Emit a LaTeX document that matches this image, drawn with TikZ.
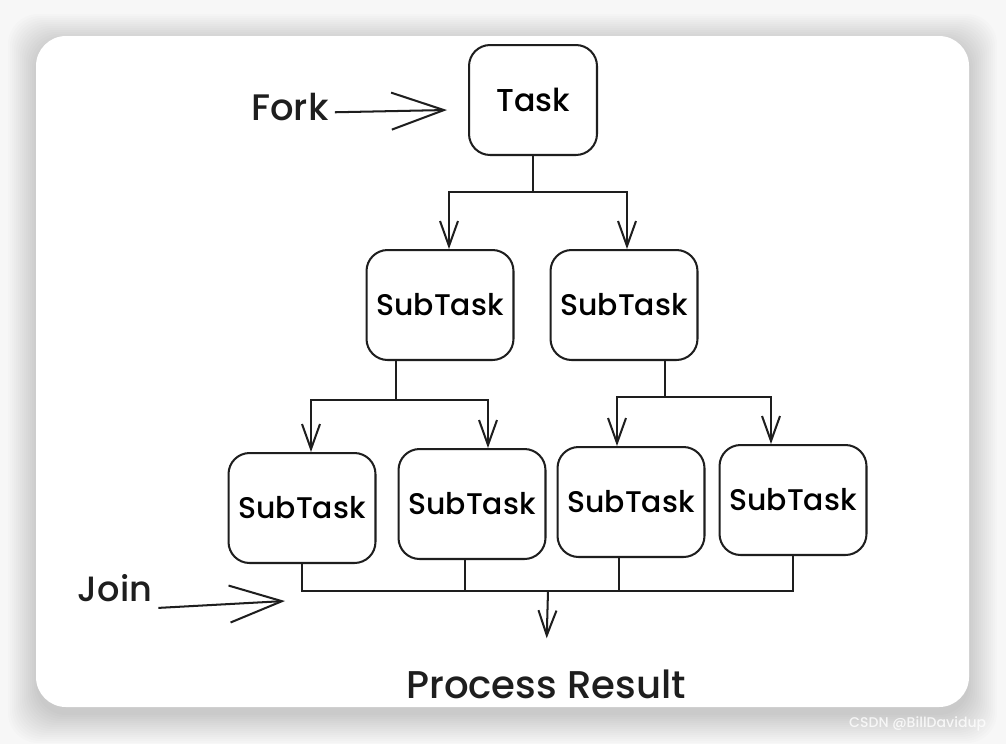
\documentclass[tikz,border=0pt]{standalone}
\usepackage{fontspec}
\setmainfont{Poppins}[UprightFont={* Medium}]
\usetikzlibrary{arrows.meta}

\definecolor{ink}{HTML}{1E1E1E}
\definecolor{backdrop}{HTML}{F7F7F7}

\tikzset{
  box/.style={draw=ink, line width=1.15pt, rounded corners=12pt,
    minimum width=2.94cm, minimum height=2.2cm, font=\fontsize{17}{20}\selectfont},
  link/.style={draw=ink, line width=1.15pt},
  arr/.style={link, -{Straight Barb[length=0.5cm, width=0.36cm, line width=1.15pt]}},
  bigarr/.style={link, -{Straight Barb[length=1.05cm, width=0.74cm, line width=1.15pt]}},
  lbl/.style={text=ink, font=\fontsize{20}{24}\selectfont},
}

\begin{document}
\begin{tikzpicture}[x=0.02cm, y=-0.02cm]
  \useasboundingbox (0,0) rectangle (1006,744);
  \fill[backdrop] (0,0) rectangle (1006,744);
  \foreach \s in {28,26,...,0}
    \fill[black, opacity=0.01, rounded corners=0.6cm] (36-\s,36-\s+6) rectangle (969+\s,707+\s+8);
  \fill[white, rounded corners=0.6cm] (36,36) rectangle (969,707);

  \node[box, minimum width=2.56cm, font=\fontsize{18}{21}\selectfont] (task) at (533,100) {Task};
  \node[box] (sub1) at (440,305) {SubTask};
  \node[box] (sub2) at (624,305) {SubTask};
  \node[box] (l2a) at (302,508) {SubTask};
  \node[box] (l2b) at (472,504) {SubTask};
  \node[box] (l2c) at (631,502) {SubTask};
  \node[box] (l2d) at (793,500) {SubTask};

  \node[lbl, font=\fontsize{21}{25}\selectfont] (fork) at (290,107) {Fork};
  \node[lbl] (join) at (115,588) {Join};
  \node[lbl, font=\fontsize{22}{26}\selectfont] (res) at (546,684) {Process Result};

  \coordinate (forkend) at (447,110);
  \coordinate (joinend) at (285,601);
  \coordinate (jn) at (548,591);

  \draw[arr] (task.south) -- ++(0,36) -| ([xshift=0.18cm]sub1.north);
  \draw[arr] (task.south) ++(0,36) -| ([xshift=0.06cm]sub2.north);
  \draw[arr] ([xshift=-0.88cm]sub1.south) -- ++(0,39) -| ([xshift=0.18cm]l2a.north);
  \draw[arr] ([xshift=-0.88cm]sub1.south) ++(0,39) -| ([xshift=0.32cm]l2b.north);
  \draw[arr] ([xshift=0.82cm]sub2.south) -- ++(0,36) -| ([xshift=-0.28cm]l2c.north);
  \draw[arr] ([xshift=0.82cm]sub2.south) ++(0,36) -| ([xshift=-0.44cm]l2d.north);

  \draw[link] (l2a.south) |- (jn) -| (l2d.south);
  \draw[link] ([xshift=-0.14cm]l2b.south) -- ([xshift=-0.14cm]l2b.south |- jn);
  \draw[link] ([xshift=-0.24cm]l2c.south) -- ([xshift=-0.24cm]l2c.south |- jn);
  \draw[arr, shorten >=0.5cm] (jn) -- (res.north);

  \draw[bigarr] ([yshift=-3pt]fork.east) -- (forkend);
  \draw[bigarr] (join.south east) -- (joinend);

  \node[text=white, opacity=0.8, anchor=west, font=\fontsize{8}{9}\selectfont] (mark) at (843,724) {CSDN @BillDavidup};
\end{tikzpicture}
\end{document}
